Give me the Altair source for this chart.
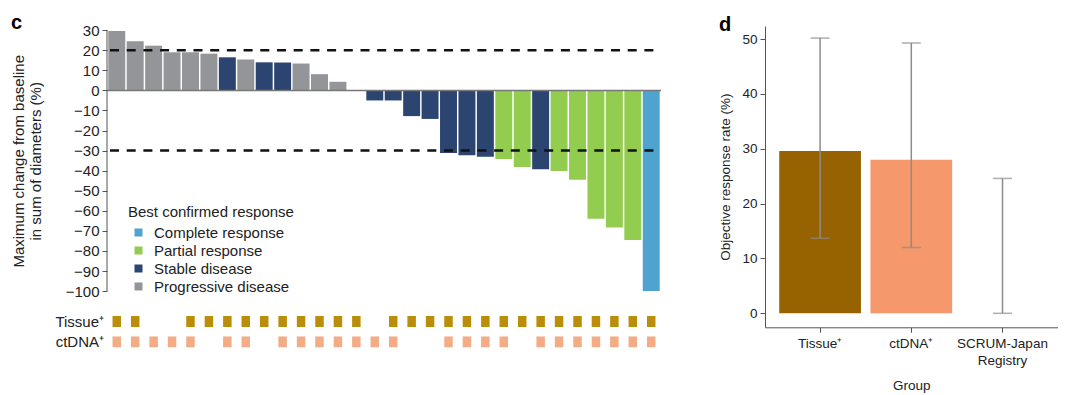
import altair as alt
import pandas as pd

# ---------------- Panel c data ----------------
positions = list(range(1, 31))
pct_change = [29.6, 24.5, 22.3, 19.0, 19.0, 18.3, 16.5, 15.4, 14.0, 13.9,
              13.4, 8.1, 4.3, 0.0, -5.0, -5.0, -12.8, -14.2, -31.2, -32.3,
              -33.0, -34.2, -38.2, -39.3, -40.2, -44.5, -64.0, -68.3, -74.5, -100.0]
PD, SD, PR, CR = "Progressive disease", "Stable disease", "Partial response", "Complete response"
best_response = [PD, PD, PD, PD, PD, PD, SD, PD, SD, SD,
                 PD, PD, PD, SD, SD, SD, SD, SD, SD, SD,
                 SD, PR, PR, SD, PR, PR, PR, PR, PR, CR]
tissue_positions = [1, 2, 5, 6, 7, 8, 9, 10, 11, 12, 13, 14, 16, 17, 18, 19, 20,
                    21, 22, 23, 24, 25, 26, 27, 28, 29, 30]
ctdna_positions = [1, 2, 3, 4, 5, 7, 8, 10, 11, 12, 13, 14, 15, 16, 19, 20, 21,
                   22, 24, 25, 26, 27, 28, 29, 30]
response_order = [CR, PR, SD, PD]
response_colors = ["#4EA3CF", "#92CD50", "#2C4470", "#939598"]
threshold_lines = [20, -30]

# ---------------- Panel d data ----------------
groups = ["Tissue⁺", "ctDNA⁺", "SCRUM-Japan Registry"]
orr = [29.6, 28.0, 0.0]
ci_low = [13.7, 12.0, 0.0]
ci_high = [50.2, 49.3, 24.6]
group_colors = ["#966300", "#F5986B", "#FFFFFF"]

FONT = "Liberation Sans"
AX = "#555555"

wf = pd.DataFrame({"pos": positions, "value": pct_change, "response": best_response})
tis = pd.DataFrame({"pos": tissue_positions})
ctd = pd.DataFrame({"pos": ctdna_positions})
thr = pd.DataFrame({"value": threshold_lines})

W_L, H_L = 554, 325.3
y_dom = [-130, 32.1]
xs = alt.Scale(domain=positions, paddingInner=0.08, paddingOuter=0.07)
ys = alt.Scale(domain=y_dom, nice=False, zero=False)
yaxis = alt.Axis(values=list(range(-100, 31, 10)), domain=False, grid=False,
                 tickSize=5, tickColor=AX, labelFontSize=15, labelColor="#222",
                 labelPadding=3,
                 labelExpr="datum.value < 0 ? '\u2212' + abs(datum.value) : '' + datum.value",
                 title=["Maximum change from baseline", "in sum of diameters (%)"],
                 titleFontSize=15, titleFontWeight="normal", titleColor="#222",
                 titleLineHeight=17, titleX=-81, titleY=134.8, titleAngle=270,
                 titleAlign="center", titleBaseline="bottom")

bars = alt.Chart(wf).mark_bar().encode(
    x=alt.X("pos:O", scale=xs, axis=None),
    y=alt.Y("value:Q", scale=ys, axis=yaxis),
    y2=alt.datum(0),
    color=alt.Color("response:N", scale=alt.Scale(domain=response_order, range=response_colors),
                    legend=alt.Legend(title="Best confirmed response", orient="none",
                                      legendX=21, legendY=179, symbolType="square",
                                      symbolSize=64, symbolStrokeWidth=0, symbolOffset=3,
                                      labelOffset=8, labelFontSize=15, titleFontSize=15,
                                      titleFontWeight="normal", titleColor="#222",
                                      labelColor="#222", rowPadding=2, titlePadding=5)),
)

zero_line = alt.Chart(wf).mark_rule(color="#777", strokeWidth=1.5).encode(
    y=alt.Y("value:Q", scale=ys, axis=yaxis), x=alt.value(0), x2=alt.value(W_L)
).transform_aggregate(n="count()").transform_calculate(value="0")

dashes = alt.Chart(thr).mark_rule(color="#111", strokeWidth=2.5, strokeDash=[9, 7.7]).encode(
    y=alt.Y("value:Q", scale=ys, axis=yaxis), x=alt.value(3), x2=alt.value(W_L)
)

axis_line = alt.Chart(wf).mark_rule(color=AX, strokeWidth=1).encode(
    x=alt.value(0), y=alt.Y("value:Q", scale=ys, axis=yaxis), y2="hi:Q"
).transform_aggregate(n="count()").transform_calculate(value="-100", hi="30")

tis_marks = alt.Chart(tis).mark_bar(color="#BA8E0A", width=8.5).encode(
    x=alt.X("pos:O", scale=xs, axis=None),
    y=alt.YDatum(-112.4, scale=ys, axis=yaxis), y2=alt.datum(-117.9),
)
ctd_marks = alt.Chart(ctd).mark_bar(color="#F2AD86", width=8.5).encode(
    x=alt.X("pos:O", scale=xs, axis=None),
    y=alt.YDatum(-122.6, scale=ys, axis=yaxis), y2=alt.datum(-128.0),
)
row_lab = pd.DataFrame({"row": ["Tissue⁺", "ctDNA⁺"], "value": [-115.2, -125.3]})
row_text = alt.Chart(row_lab).mark_text(align="right", baseline="middle", fontSize=15,
                                        color="#222", font=FONT).encode(
    x=alt.value(-3), y=alt.Y("value:Q", scale=ys, axis=yaxis), text="row:N"
)

left = alt.layer(bars, zero_line, dashes, axis_line, tis_marks, ctd_marks, row_text).properties(
    width=W_L, height=H_L,
    title=alt.TitleParams("c", anchor="start", fontSize=20, fontWeight="bold", offset=-9.4,
                          color="#000", font=FONT),
)

# ---------------- Panel d ----------------
dd = pd.DataFrame({"group": groups, "orr": orr, "lo": ci_low, "hi": ci_high})
W_R, H_R = 292.6, 301.3
xr = alt.Scale(domain=groups, paddingInner=0.104, paddingOuter=0.156)
yr = alt.Scale(domain=[-2.55, 52.4], nice=False, zero=False)
xaxis_r = alt.Axis(labelAngle=0, labelFontSize=13.5, labelColor="#222", tickSize=5,
                   tickColor=AX, domainColor=AX, labelPadding=4, labelLineHeight=17,
                   labelExpr="datum.label == 'SCRUM-Japan Registry' ? ['SCRUM-Japan', 'Registry'] : datum.label",
                   title="Group", titleFontSize=13.5, titleFontWeight="normal",
                   titleColor="#222", titlePadding=12)
yaxis_r = alt.Axis(values=[0, 10, 20, 30, 40, 50], grid=False, tickSize=5, tickColor=AX,
                   domainColor=AX, labelFontSize=13.5, labelColor="#222", labelPadding=3,
                   title="Objective response rate (%)", titleFontSize=13.5,
                   titleFontWeight="normal", titleColor="#222", titlePadding=9)

rbars = alt.Chart(dd).mark_bar().encode(
    x=alt.X("group:N", scale=xr, sort=groups, axis=xaxis_r),
    y=alt.Y("orr:Q", scale=yr, axis=yaxis_r),
    y2=alt.datum(0),
    color=alt.Color("group:N", scale=alt.Scale(domain=groups, range=group_colors), legend=None),
)
err = alt.Chart(dd).mark_rule(color="#8C8C8C", strokeWidth=1.5).encode(
    x=alt.X("group:N", scale=xr, sort=groups, axis=xaxis_r),
    y=alt.Y("lo:Q", scale=yr, axis=yaxis_r), y2="hi:Q"
)
cap_lo = alt.Chart(dd).mark_tick(color="#8C8C8C", size=19, thickness=1.5).encode(
    x=alt.X("group:N", scale=xr, sort=groups, axis=xaxis_r),
    y=alt.Y("lo:Q", scale=yr, axis=yaxis_r)
)
cap_hi = alt.Chart(dd).mark_tick(color="#8C8C8C", size=19, thickness=1.5).encode(
    x=alt.X("group:N", scale=xr, sort=groups, axis=xaxis_r),
    y=alt.Y("hi:Q", scale=yr, axis=yaxis_r)
)

right = alt.layer(rbars, err, cap_lo, cap_hi).properties(
    width=W_R, height=H_R,
    title=alt.TitleParams("d", anchor="start", fontSize=20, fontWeight="bold", offset=-9.4,
                          color="#000", font=FONT),
)

chart = alt.hconcat(left, right, spacing=55).resolve_scale(
    color="independent", x="independent", y="independent"
).properties(
    padding={"left": 3, "top": 4, "right": 0, "bottom": 0}
).configure(font=FONT).configure_view(stroke=None).configure_axis(
    labelFont=FONT, titleFont=FONT
).configure_legend(labelFont=FONT, titleFont=FONT)

chart.save("out.html", embed_options={"renderer": "svg", "actions": False})
